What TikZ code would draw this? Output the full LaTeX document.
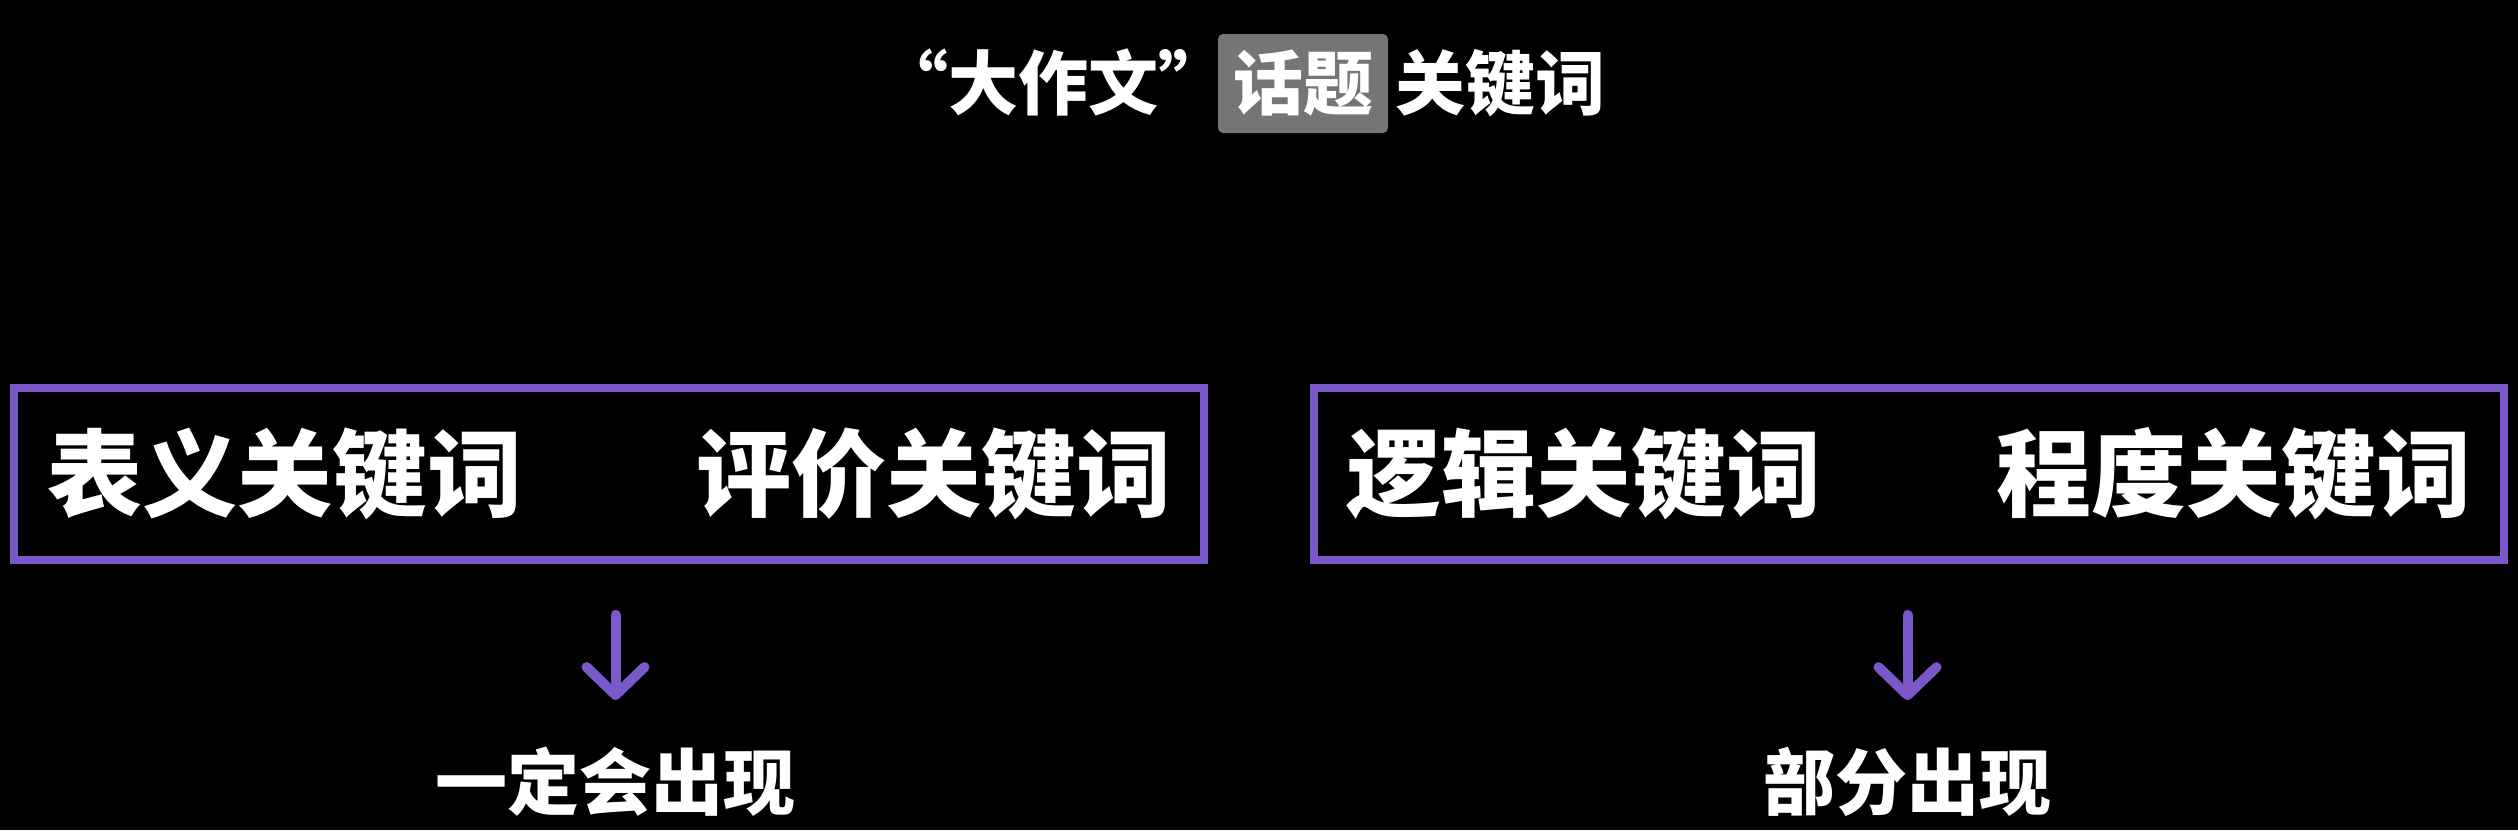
\documentclass[tikz,border=0pt]{standalone}
\usepackage{fontspec}
\newfontfamily\cjk{Noto Sans CJK SC}
\newfontfamily\cjkfw{Noto Sans CJK SC}[RawFeature=+fwid]
\usetikzlibrary{arrows.meta}
\definecolor{purp}{HTML}{7B58C9}
\definecolor{tgray}{HTML}{757575}
\tikzset{
  txt/.style={inner sep=0pt, text=white},
  titlefont/.style={font=\cjk\bfseries\fontsize{70pt}{70pt}\selectfont},
  quotefont/.style={font=\cjkfw\bfseries\fontsize{70pt}{70pt}\selectfont},
  keyfont/.style={font=\cjk\bfseries\fontsize{95pt}{95pt}\selectfont},
  labfont/.style={font=\cjk\bfseries\fontsize{72pt}{72pt}\selectfont},
  framebox/.style={draw=purp, line width=8pt, minimum width=1190pt, minimum height=172pt, inner sep=0pt},
  arr/.style={draw=purp, line width=10pt, line cap=round, -{Straight Barb[length=28pt,width=58pt,round]}}
}
\begin{document}
\begin{tikzpicture}[x=1pt,y=-1pt]
\fill[black] (0,0) rectangle (2518,830);
\useasboundingbox (0,0) rectangle (2518,830);
% title
\node[txt, titlefont, fill=tgray, rounded corners=5pt, minimum width=170pt, minimum height=99pt] (topic) at (1303,83.5) {话题};
\node[txt, quotefont, anchor=base east] (t1) at ([xshift=11pt]topic.base west) {“大作文”};
\node[txt, titlefont, anchor=base west] (t3) at ([xshift=7pt]topic.base east) {关键词};
% boxes
\node[framebox] (lbox) at (609,474) {};
\node[framebox] (rbox) at (1909,474) {};
\node[txt, keyfont] (k1) at (284.5,474) {表义关键词};
\node[txt, keyfont] (k2) at (933.5,474) {评价关键词};
\node[txt, keyfont] (k3) at (1584,474) {逻辑关键词};
\node[txt, keyfont] (k4) at (2234,474) {程度关键词};
% labels
\node[txt, labfont] (l1) at (615.5,782) {一定会出现};
\node[txt, labfont] (l2) at (1907.5,782) {部分出现};
% arrows
\draw[arr] ([yshift=-51pt]lbox.south -| l1.north) -- ([yshift=47pt]l1.north);
\draw[arr] ([yshift=-51pt]rbox.south -| l2.north) -- ([yshift=47pt]l2.north);
\end{tikzpicture}
\end{document}
